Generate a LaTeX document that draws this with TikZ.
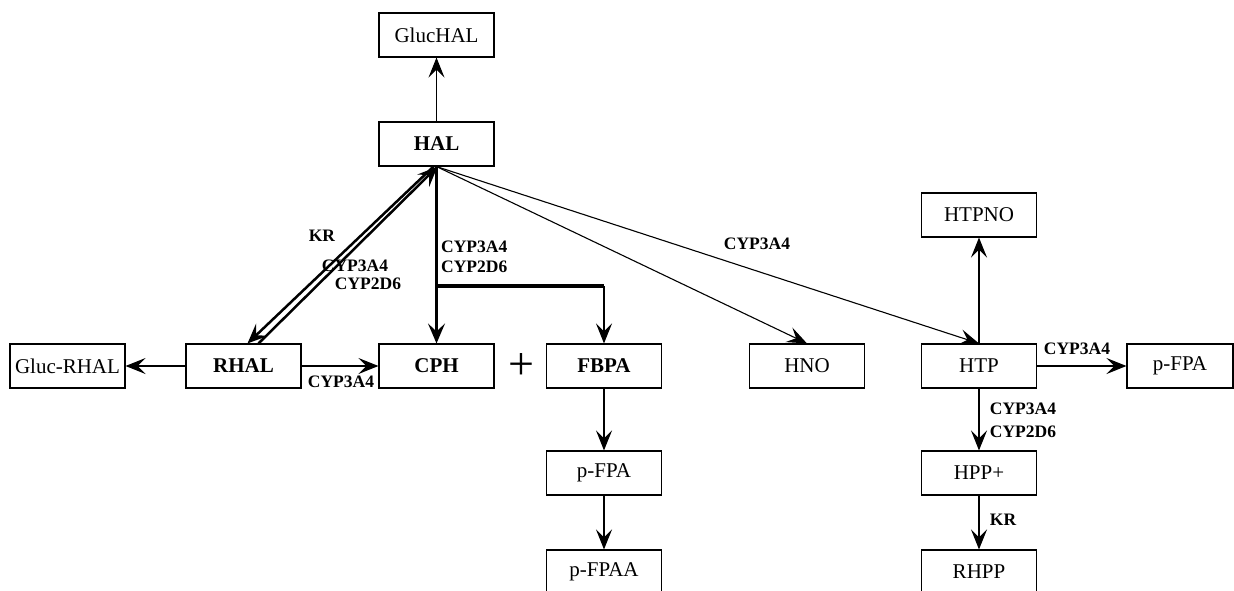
\documentclass[tikz,border=0pt]{standalone}
\usepackage{fontspec}
\setmainfont{Liberation Serif}
\usetikzlibrary{arrows.meta}

\def\stoff#1#2#3{
	\node[box] (#1) at #2 {#3};
}
\def\enzym#1#2#3{
	\node[enz] (#1) at #2 {#3};
}

\begin{document}
\begin{tikzpicture}[x=1pt,y=-1pt,
	box/.style={draw,line width=1.1pt,minimum width=115pt,minimum height=44pt,inner sep=0pt,font=\fontsize{21}{24}\selectfont},
	hub/.style={box,font=\fontsize{21}{24}\selectfont\bfseries},
	enz/.style={inner sep=0pt,font=\fontsize{17.5}{20}\selectfont\bfseries},
	pfeil/.style={line width=1.1pt,-{Stealth[length=20pt,width=16pt,inset=8pt]}},
	dick/.style={line width=3.5pt,-{Stealth[length=20pt,width=17pt,inset=8pt,line width=1.5pt]}}]
\useasboundingbox (0,0) rectangle (1234,590);
% substances
\stoff{GlucHAL}{(436.5,35)}{GlucHAL}
\node[hub] (HAL) at (436.5,144) {HAL};
\stoff{GlucRHAL}{(67.5,366)}{Gluc-RHAL}
\node[hub] (RHAL) at (243.5,366) {RHAL};
\node[hub] (CPH) at (436.5,366) {CPH};
\node[hub] (FBPA) at (604,366) {FBPA};
\stoff{HNO}{(807,366)}{HNO}
\stoff{HTP}{(979,366)}{HTP}
\stoff{HTPNO}{(979,215)}{HTPNO}
\node[box,minimum width=106pt] (pFPAr) at (1180,366) {p-FPA};
\stoff{pFPA}{(604,473)}{p-FPA}
\stoff{pFPAA}{(604,572)}{p-FPAA}
\stoff{HPP}{(979,473)}{HPP+}
\stoff{RHPP}{(979,572)}{RHPP}
\node[font=\fontsize{46}{50}\selectfont,inner sep=0pt] (plus) at (521,366) {+};
% reactions
\draw[pfeil] (HAL) -- (GlucHAL);
\draw[pfeil] (RHAL) -- (GlucRHAL);
\draw[pfeil] (RHAL) -- (CPH);
\draw[pfeil] (FBPA) -- (pFPA);
\draw[pfeil] (pFPA) -- (pFPAA);
\draw[pfeil] (HTP) -- (HTPNO);
\draw[pfeil] (HTP) -- (pFPAr);
\draw[pfeil] (HTP) -- (HPP);
\draw[pfeil] (HPP) -- (RHPP);
\draw[pfeil] (HAL.south) -- (HNO.north);
\draw[pfeil] (HAL.south) -- (HTP.north);
\draw[dick] (HAL.south) -- (CPH.north);
\coordinate (gabel) at (436.5,286);
\draw[line width=3.5pt] (gabel) -- (gabel -| FBPA);
\draw[pfeil] (gabel -| FBPA) -- (FBPA.north);
\draw[dick,line width=2.5pt] ([xshift=-3pt]HAL.south) -- ([xshift=4pt]RHAL.north);
\draw[dick,line width=2.5pt] ([xshift=15pt]RHAL.north) -- ([xshift=1pt]HAL.south);
% enzymes
\enzym{kr1}{(322,236)}{KR}
\enzym{e1}{(355,266)}{CYP3A4}
\enzym{e2}{(368,284)}{CYP2D6}
\node[enz,anchor=west] (e3) at (441,247) {CYP3A4};
\node[enz,anchor=west] (e4) at (441,267) {CYP2D6};
\enzym{e5}{(341,382)}{CYP3A4}
\enzym{e6}{(757,244)}{CYP3A4}
\enzym{e7}{(1077,349)}{CYP3A4}
\enzym{e8}{(1023,409)}{CYP3A4}
\enzym{e9}{(1023,432)}{CYP2D6}
\enzym{kr2}{(1003,520)}{KR}
\end{tikzpicture}
\end{document}
